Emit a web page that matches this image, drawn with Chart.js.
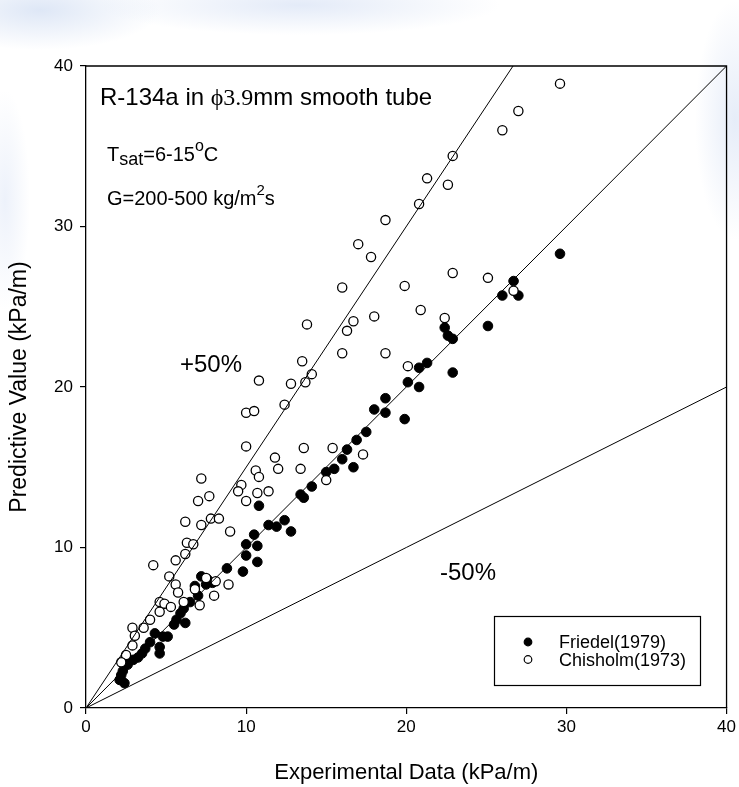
<!DOCTYPE html>
<html>
<head>
<meta charset="utf-8">
<script src="https://cdn.jsdelivr.net/npm/chart.js@4.4.1/dist/chart.umd.min.js"></script>
<style>
html, body { margin: 0; padding: 0; }
body {
  width: 739px; height: 787px; overflow: hidden;
  background:
    radial-gradient(ellipse 120px 40px at 40px 10px, rgba(200,215,240,0.6), rgba(255,255,255,0) 100%),
    radial-gradient(ellipse 200px 30px at 300px 5px, rgba(205,218,242,0.55), rgba(255,255,255,0) 100%),
    radial-gradient(ellipse 40px 120px at 735px 120px, rgba(205,218,242,0.5), rgba(255,255,255,0) 100%),
    radial-gradient(ellipse 25px 110px at 5px 200px, rgba(215,225,245,0.45), rgba(255,255,255,0) 100%),
    #ffffff;
}
</style>
</head>
<body>
<canvas id="myChart" width="739" height="787"></canvas>
<script>
// Friedel(1979), filled markers
var friedelX = [29.6, 26.7, 26.0, 27.0, 22.4, 22.6, 22.9, 25.1, 21.3, 20.8, 20.8, 22.9,
  20.1, 18.7, 18.0, 18.7, 19.9, 17.5, 10.8, 11.4, 11.9, 12.4, 12.8, 10.5, 10.0, 10.7,
  10.0, 10.7, 13.4, 13.6, 14.1, 15.0, 15.5, 16.0, 16.3, 16.7, 16.9, 8.8, 9.8, 7.2, 7.6,
  7.9, 6.8, 7.5, 7.0, 6.5, 6.1, 5.9, 5.65, 5.5, 6.2, 4.3, 4.8, 5.1, 4.6, 4.6, 4.0, 3.7,
  3.5, 3.25, 2.95, 2.6, 2.3, 2.2, 2.4, 2.1];
var friedelY = [28.3, 26.6, 25.7, 25.7, 23.7, 23.2, 23.0, 23.8, 21.5, 21.2, 20.0, 20.9,
  20.3, 19.3, 18.6, 18.4, 18.0, 17.2, 12.6, 11.4, 11.3, 11.7, 11.0, 10.8, 10.2, 10.1,
  9.5, 9.1, 13.3, 13.1, 13.8, 14.7, 14.9, 15.5, 16.1, 15.0, 16.7, 8.7, 8.5, 8.2, 8.0,
  7.8, 7.6, 7.7, 7.0, 6.6, 6.2, 5.9, 5.5, 5.2, 5.3, 4.65, 4.45, 4.45, 3.8, 3.4, 4.1, 3.7,
  3.4, 3.15, 3.0, 2.7, 2.3, 2.05, 1.55, 1.75];

// Chisholm(1973), open markers
var chisholmX = [29.6, 27.0, 26.0, 22.9, 21.3, 22.6, 20.8, 22.9, 25.1, 26.7, 20.9, 22.4,
  18.7, 17.0, 17.8, 16.0, 19.9, 13.8, 16.7, 16.3, 18.0, 16.0, 18.7, 13.5, 12.8, 13.7,
  14.1, 12.4, 20.1, 10.8, 10.0, 10.5, 10.0, 13.6, 15.4, 11.8, 12.0, 13.4, 10.6, 10.8,
  15.0, 7.2, 9.7, 9.5, 10.7, 11.4, 7.7, 7.0, 10.0, 6.2, 7.2, 7.8, 8.3, 9.0, 6.3, 6.7,
  6.2, 17.3, 5.6, 4.2, 5.2, 5.6, 5.75, 6.1, 4.6, 4.9, 5.3, 6.8, 7.5, 8.1, 8.9, 8.0, 7.1,
  4.6, 4.0, 3.6, 2.9, 3.05, 2.9, 2.5, 2.2];
var chisholmY = [38.9, 37.2, 36.0, 34.4, 33.0, 32.6, 31.4, 27.1, 26.8, 26.0, 24.8, 24.3,
  30.4, 28.9, 28.1, 26.2, 26.3, 23.9, 24.1, 23.5, 24.4, 22.1, 22.1, 21.6, 20.2, 20.3,
  20.8, 18.9, 21.3, 20.4, 18.4, 18.5, 16.3, 16.2, 16.2, 15.6, 14.9, 14.9, 14.8, 14.4,
  14.2, 14.3, 13.9, 13.5, 13.4, 13.5, 13.2, 12.9, 12.9, 11.6, 11.4, 11.8, 11.8, 11.0,
  10.3, 10.2, 9.6, 15.8, 9.2, 8.9, 8.2, 7.7, 7.2, 6.6, 6.6, 6.5, 6.3, 7.4, 8.1, 7.9, 7.7,
  7.0, 6.4, 6.0, 5.5, 5.0, 5.0, 4.5, 3.9, 3.3, 2.85];

var axisTicks = [0, 10, 20, 30, 40];
var refSlopes = [1, 1.5, 0.5];
var refLabels = ['', '+50%', '-50%'];

function toPoints(xs, ys) {
  return xs.map(function (x, i) { return { x: x, y: ys[i] }; });
}

var datasets = [];
refSlopes.forEach(function (k) {
  datasets.push({
    type: 'line',
    data: [{ x: axisTicks[0], y: axisTicks[0] * k }, { x: axisTicks[4], y: axisTicks[4] * k }],
    borderColor: '#000',
    borderWidth: 1,
    pointRadius: 0,
    fill: false,
    order: 0
  });
});
datasets.push({
  label: 'Chisholm(1973)',
  data: toPoints(chisholmX, chisholmY),
  backgroundColor: '#fff',
  borderColor: '#000',
  borderWidth: 1.3,
  pointRadius: 4.6,
  order: 1
});
datasets.push({
  label: 'Friedel(1979)',
  data: toPoints(friedelX, friedelY),
  backgroundColor: '#000',
  borderColor: '#000',
  borderWidth: 1,
  pointRadius: 4.8,
  order: 2
});

function drawRuns(ctx, x, y, runs) {
  runs.forEach(function (r) {
    ctx.font = r.font;
    ctx.fillText(r.t, x, y + (r.dy || 0));
    x += ctx.measureText(r.t).width;
  });
}

var decor = {
  id: 'decor',
  afterDraw: function (chart) {
    var ctx = chart.ctx, a = chart.chartArea;
    ctx.save();
    ctx.strokeStyle = '#000';
    ctx.lineWidth = 1.3;
    ctx.beginPath();
    ctx.moveTo(a.left, a.top);
    ctx.lineTo(a.right, a.top);
    ctx.lineTo(a.right, a.bottom);
    ctx.stroke();

    ctx.fillStyle = '#000';
    ctx.textBaseline = 'alphabetic';
    var sans = 'Arial, "Liberation Sans", sans-serif';
    var serif = '"Times New Roman", "Liberation Serif", serif';
    drawRuns(ctx, 100, 105, [
      { t: 'R-134a in ', font: '24px ' + sans },
      { t: '\u03D53.9', font: '24px ' + serif },
      { t: 'mm smooth tube', font: '24px ' + sans }
    ]);
    drawRuns(ctx, 107, 161, [
      { t: 'T', font: '20px ' + sans },
      { t: 'sat', font: '18px ' + sans, dy: 4 },
      { t: '=6-15', font: '20px ' + sans },
      { t: 'o', font: '16px ' + sans, dy: -10 },
      { t: 'C', font: '20px ' + sans }
    ]);
    drawRuns(ctx, 107, 205, [
      { t: 'G=200-500 kg/m', font: '20px ' + sans },
      { t: '2', font: '15px ' + sans, dy: -10 },
      { t: 's', font: '20px ' + sans }
    ]);

    ctx.font = '24px ' + sans;
    ctx.fillText(refLabels[1], 180, 372);
    ctx.fillText(refLabels[2], 440, 580);

    // legend box
    ctx.lineWidth = 1.2;
    ctx.strokeRect(494.5, 616.5, 206, 69);
    ctx.font = '18px ' + sans;
    var items = [datasets[4], datasets[3]];
    items.forEach(function (ds, i) {
      var cy = 642 + i * 17.5;
      ctx.beginPath();
      ctx.arc(528, cy, 3.8, 0, Math.PI * 2);
      ctx.fillStyle = ds.backgroundColor;
      ctx.fill();
      ctx.lineWidth = 1.2;
      ctx.stroke();
      ctx.fillStyle = '#000';
      ctx.fillText(ds.label, 559, cy + 6);
    });
    ctx.restore();
  }
};

var ctx = document.getElementById('myChart');
var tickFont = { family: 'Arial, "Liberation Sans", sans-serif', size: 17 };

var myChart = new Chart(ctx, {
  type: 'scatter',
  data: { datasets: datasets },
  options: {
    responsive: false,
    animation: false,
    devicePixelRatio: 1,
    layout: { padding: { top: 66, right: 11, left: 0, bottom: 0 } },
    plugins: { legend: { display: false }, tooltip: { enabled: false } },
    scales: {
      x: {
        type: 'linear', min: 0, max: 40,
        afterBuildTicks: function (s) { s.ticks = axisTicks.map(function (v) { return { value: v }; }); },
        afterFit: function (s) { s.height = 79; },
        ticks: { color: '#000', font: tickFont, padding: 3, maxRotation: 0 },
        grid: { display: true, drawOnChartArea: false, drawTicks: true, tickLength: 6, color: '#000', lineWidth: 1.2 },
        border: { display: true, color: '#000', width: 1.3 },
        title: { display: true, text: 'Experimental Data (kPa/m)', color: '#000',
          font: { family: 'Arial, "Liberation Sans", sans-serif', size: 22 }, padding: { top: 0, bottom: 1 } }
      },
      y: {
        type: 'linear', min: 0, max: 40,
        afterBuildTicks: function (s) { s.ticks = axisTicks.map(function (v) { return { value: v }; }); },
        afterFit: function (s) { s.width = 86; },
        ticks: { color: '#000', font: tickFont, padding: 7 },
        grid: { display: true, drawOnChartArea: false, drawTicks: true, tickLength: 6, color: '#000', lineWidth: 1.2 },
        border: { display: true, color: '#000', width: 1.3 },
        title: { display: true, text: 'Predictive Value (kPa/m)', color: '#000',
          font: { family: 'Arial, "Liberation Sans", sans-serif', size: 23 }, padding: { top: 6, bottom: 0 } }
      }
    }
  },
  plugins: [decor]
});
</script>
</body>
</html>
